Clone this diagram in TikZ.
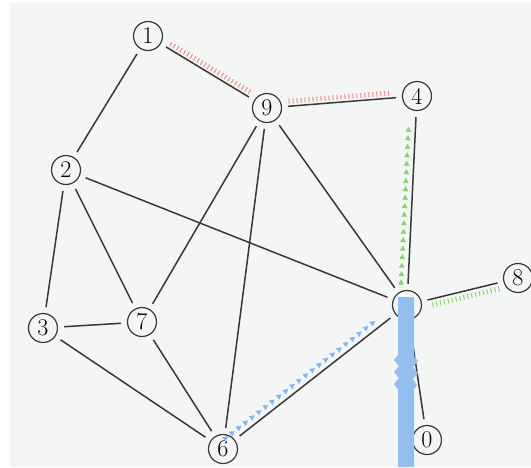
\documentclass[tikz,border=0pt]{standalone}
\usepackage{tikz}
\usetikzlibrary{arrows.meta,calc,decorations.pathreplacing,decorations.markings}
\definecolor{ink}{HTML}{383838}
\definecolor{paper}{HTML}{F4F6F6}
\definecolor{tickred}{HTML}{EE8A86}
\definecolor{tickgreen}{HTML}{86D36A}
\definecolor{tickblue}{HTML}{86B4EE}
\definecolor{barblue}{HTML}{92BEF0}

\begin{document}
\begin{tikzpicture}[x=1pt,y=-1pt,
  vertex/.style={circle,draw=ink,line width=1.2pt,minimum size=29pt,inner sep=0pt,font=\fontsize{24}{24}\selectfont},
  edge/.style={draw=ink,line width=1.5pt,shorten <=6pt,shorten >=6pt},
  tickline/.style={draw=#1,line width=1pt,decorate,decoration={ticks,segment length=4pt,amplitude=2.5pt}},
  trianglerow/.style={decorate,decoration={markings,mark=between positions 0 and 1 step 8.5pt with {\arrow[#1]{Triangle[length=5pt,width=5.5pt]}}}}]
  \useasboundingbox (0,0) rectangle (531,467);
  \fill[paper] (10,3) rectangle (531,467);
  % vertices
  \foreach \n/\x/\y in {1/148/36,9/267/108,4/417/96,2/66/170,7/142/322,3/43/328,6/223/449,8/518/278,0/427/440}
    {\node[vertex] (n\n) at (\x,\y) {\n};}
  \node[vertex] (hub) at (407,305) {};
  % edges
  \foreach \a/\b in {n1/n2,n1/n9,n9/n4,n9/n7,n9/n6,n9/hub,n2/n7,n2/n3,n2/hub,n3/n7,n3/n6,n7/n6,n6/hub,n4/hub,hub/n8,hub/n0}
    {\draw[edge] (\a) -- (\b);}
  % coloured marks beside the edges
  \draw[tickline=tickred] ($(n1)!0.17!(n9)!5pt!90:(n9)$) -- ($(n1)!0.84!(n9)!5pt!90:(n9)$);
  \draw[tickline=tickred] ($(n9)!0.15!(n4)!5pt!90:(n4)$) -- ($(n9)!0.83!(n4)!5pt!90:(n4)$);
  \draw[tickline=tickgreen] ($(hub)!0.22!(n8)!6pt!-90:(n8)$) -- ($(hub)!0.84!(n8)!6pt!-90:(n8)$);
  \path[trianglerow=tickgreen] ($(hub)!0.12!(n4)!7pt!90:(n4)$) -- ($(hub)!0.88!(n4)!7pt!90:(n4)$);
  \path[trianglerow=tickblue] ($(n6)!0.05!(hub)!7pt!90:(hub)$) -- ($(n6)!0.88!(hub)!7pt!90:(hub)$);
  % blue bar
  \fill[barblue] (398,297) -- (414,297) -- (414,356) -- (418,361) -- (413,367) -- (418,373) -- (413,379)
    -- (417,385) -- (414,389) -- (414,467) -- (398,467) -- (398,389) -- (394,384) -- (399,378)
    -- (394,372) -- (399,366) -- (394,360) -- (398,355) -- cycle;
\end{tikzpicture}
\end{document}
